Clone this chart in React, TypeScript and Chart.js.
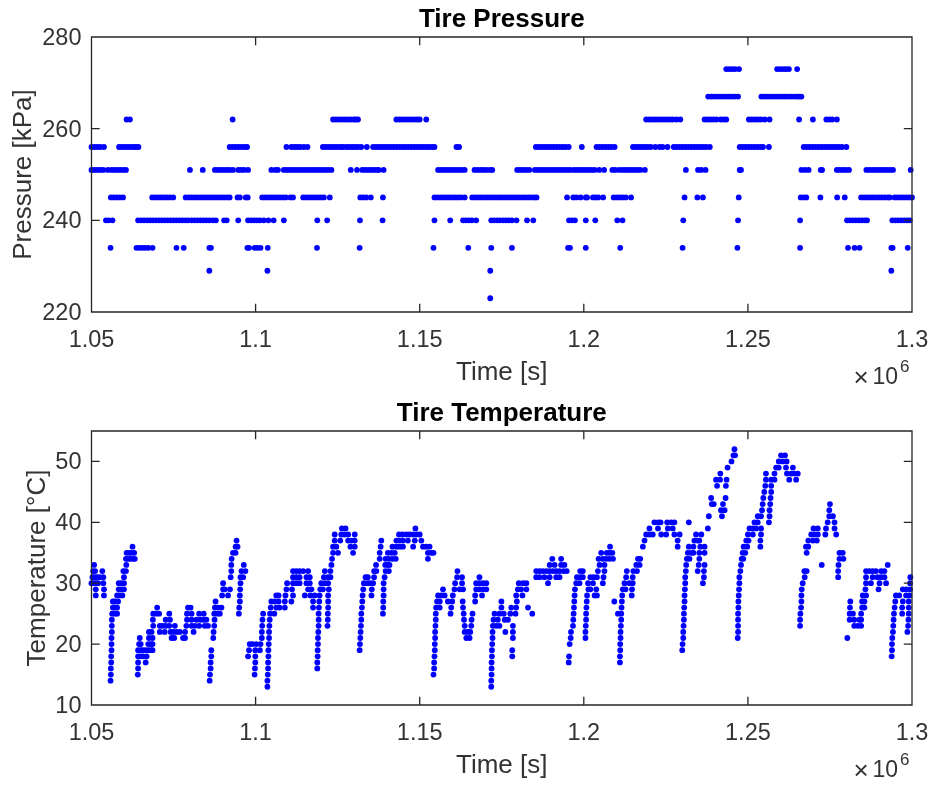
import React, { useEffect, useRef } from "react";
import { Chart, registerables } from "chart.js";

Chart.register(...registerables);

// x values are in thousands of seconds
const p223 = [1171.5];
const p229 = [1085.9, 1103.6, 1171.5, 1293.7];
const p234 = [1055.8, 1063.7, 1064.6, 1065.5, 1066.4, 1067.3, 1068.6, 1075.9, 1078.1, 1085.9, 1086.4, 1097.5, 1098.0, 1099.7, 1100.6, 1101.5, 1103.7, 1118.7, 1131.7, 1154.2, 1164.8, 1171.8, 1178.1, 1195.2, 1195.8, 1200.6, 1211.1, 1230.1, 1246.8, 1265.9, 1280.5, 1282.5, 1284, 1293.7, 1294.1, 1298.7];
const p240 = [1054.4, 1055.2, 1056.4, 1064.2, 1065.1, 1066, 1066.9, 1067.8, 1068.7, 1069.6, 1070.5, 1071.4, 1072.3, 1073.2, 1074.1, 1075, 1075.9, 1076.8, 1077.7, 1078.6, 1079.4, 1080.5, 1081.4, 1082.3, 1083.2, 1084.1, 1085, 1085.9, 1087, 1087.9, 1090.4, 1091.2, 1094.7, 1097.7, 1098.6, 1099.5, 1100.4, 1101.3, 1102.5, 1103.9, 1105.5, 1108.6, 1118.8, 1121.8, 1131.8, 1138.7, 1154.5, 1159.3, 1163.2, 1164.1, 1165, 1165.9, 1167.2, 1171.8, 1172.7, 1173.6, 1174.4, 1175.4, 1176.3, 1177.2, 1178.1, 1179.5, 1182.7, 1184.6, 1195.5, 1196.4, 1197.3, 1200.6, 1203.5, 1210.2, 1211.8, 1230.3, 1247, 1265.9, 1280.2, 1281.1, 1282, 1282.9, 1283.8, 1284.7, 1285.6, 1286.3, 1294, 1294.9, 1295.8, 1296.7, 1297.6, 1298.5, 1299.3];
const p245 = [1055.9, 1056.8, 1057.7, 1058.6, 1059.6, 1068.5, 1069.4, 1070.3, 1071.2, 1072.1, 1073, 1073.9, 1074.9, 1078.7, 1079.6, 1080.5, 1081.4, 1082.3, 1083.2, 1084.1, 1085, 1085.9, 1086.8, 1087.7, 1088.6, 1089.5, 1090.4, 1091.3, 1092.1, 1094.5, 1095.2, 1097, 1097.6, 1102, 1102.9, 1103.8, 1104.7, 1105.6, 1106.5, 1107.4, 1108.3, 1109.2, 1110.6, 1111.4, 1114.5, 1115.4, 1116.3, 1117.2, 1118.1, 1119, 1119.9, 1120.8, 1122.6, 1131.9, 1132.8, 1133.7, 1135.1, 1138.8, 1154.5, 1155.4, 1156.3, 1157.2, 1158.1, 1159, 1159.9, 1160.8, 1161.7, 1162.6, 1163.7, 1166, 1166.9, 1167.8, 1168.7, 1169.6, 1170.5, 1171.4, 1172.3, 1173.2, 1174.1, 1175, 1175.9, 1176.8, 1177.7, 1178.6, 1179.5, 1180.4, 1181.3, 1182.2, 1183.1, 1184, 1184.9, 1185.6, 1194.9, 1196.8, 1197.7, 1199, 1200.6, 1201, 1202.8, 1203.6, 1204.4, 1205.9, 1209.1, 1210, 1210.9, 1211.8, 1212.8, 1214.4, 1230.7, 1234.6, 1236.3, 1247.2, 1266.1, 1267, 1267.8, 1272.1, 1277.2, 1279.5, 1284.5, 1285.4, 1286.3, 1287.2, 1288.1, 1289, 1289.9, 1290.8, 1291.7, 1292.6, 1293.2, 1294.7, 1295.6, 1296.5, 1297.4, 1298.3, 1299.2, 1300];
const p251 = [1050, 1050.9, 1051.8, 1052.7, 1053.6, 1055, 1056.1, 1057, 1057.9, 1058.8, 1059.7, 1060.5, 1080, 1083.9, 1087.6, 1088.5, 1089.4, 1090.3, 1091.2, 1092.1, 1093.1, 1094.7, 1095.6, 1096.5, 1097.7, 1104.8, 1106, 1106.8, 1108.6, 1109.5, 1110.4, 1111.3, 1112.2, 1113.1, 1114, 1114.9, 1115.8, 1116.7, 1117.6, 1118.5, 1119.4, 1120.3, 1121.2, 1122.1, 1123.1, 1129, 1130.9, 1132.5, 1133.4, 1134.3, 1135.2, 1136.1, 1137, 1137.5, 1139, 1155.6, 1156.5, 1157.4, 1158.3, 1159.2, 1160.1, 1161, 1161.9, 1162.8, 1163.7, 1166.7, 1167.6, 1168.5, 1169.4, 1170.3, 1171.4, 1172.1, 1179.7, 1180.6, 1181.5, 1182.4, 1183.4, 1185.1, 1186, 1186.9, 1187.8, 1188.7, 1189.6, 1190.5, 1191.4, 1192.3, 1193.2, 1194.1, 1195, 1195.9, 1197, 1197.9, 1198.8, 1199.7, 1200.6, 1201.5, 1202.4, 1203.3, 1204.7, 1206.2, 1208.7, 1209.6, 1210.8, 1211.8, 1212.7, 1213.6, 1214.5, 1215.4, 1216.3, 1217.2, 1218.6, 1231.1, 1234.8, 1235.8, 1237.1, 1247.5, 1247.9, 1266.3, 1267.4, 1268.5, 1272.2, 1272.6, 1277.1, 1278, 1278.9, 1279.8, 1280.8, 1286.1, 1287, 1287.9, 1288.8, 1289.7, 1290.6, 1291.5, 1292.4, 1293.3, 1294.2, 1299.6];
const p256 = [1050, 1050.9, 1051.8, 1052.7, 1053.8, 1058.4, 1059.3, 1060.2, 1061.1, 1062, 1062.9, 1063.6, 1064.3, 1092.1, 1093, 1093.9, 1094.8, 1095.7, 1096.6, 1097.4, 1109.4, 1110.9, 1111.8, 1112.7, 1113.6, 1114.7, 1115.8, 1120.5, 1121.4, 1122.3, 1123.2, 1124.1, 1125, 1125.9, 1126.6, 1127.6, 1128.5, 1129.4, 1130.3, 1131.2, 1132.2, 1133.9, 1135.8, 1136.7, 1137.6, 1138.5, 1139.4, 1140.3, 1141.2, 1142.1, 1143, 1143.9, 1144.8, 1145.7, 1146.6, 1147.5, 1148.4, 1149.3, 1150.2, 1151.1, 1152, 1152.9, 1153.8, 1154.5, 1161.2, 1162, 1185.4, 1186.3, 1187.2, 1188.1, 1189, 1189.9, 1190.8, 1191.7, 1192.6, 1193.5, 1194.4, 1195.4, 1199.4, 1203.9, 1204.8, 1205.7, 1206.6, 1207.5, 1208.4, 1209.4, 1215, 1215.9, 1216.8, 1217.7, 1218.6, 1219.5, 1220.4, 1221.8, 1223.1, 1224, 1225.5, 1227.4, 1228.3, 1229.2, 1230.1, 1231, 1231.9, 1232.8, 1233.7, 1234.6, 1235.5, 1236.4, 1237.3, 1238.4, 1247.5, 1248.4, 1249.3, 1250.2, 1251.1, 1252, 1252.9, 1253.8, 1254.6, 1256.4, 1267, 1267.9, 1268.8, 1269.7, 1270.6, 1271.5, 1272.4, 1273.3, 1274.2, 1275.1, 1276, 1276.9, 1277.8, 1278.7, 1280];
const p262 = [1060.7, 1061.7, 1093, 1123.6, 1124.5, 1125.4, 1126.3, 1127.2, 1128.1, 1129, 1129.9, 1130.5, 1131.2, 1142.9, 1143.8, 1144.7, 1145.6, 1146.5, 1147.4, 1148.3, 1149.2, 1150, 1152, 1219, 1219.9, 1220.8, 1221.7, 1222.6, 1223.5, 1224.4, 1225.3, 1226.2, 1227.1, 1228.2, 1229.4, 1236.8, 1237.7, 1238.6, 1239.5, 1240.4, 1241.7, 1242.6, 1243.4, 1250.3, 1251.2, 1252.1, 1253, 1253.9, 1255.1, 1256.6, 1265.6, 1269.8, 1273.9, 1274.8, 1275.7, 1277.1];
const p267 = [1237.9, 1238.8, 1239.7, 1240.6, 1241.5, 1242.4, 1243.3, 1244.2, 1245.1, 1246, 1247, 1254.1, 1255, 1255.9, 1256.8, 1257.7, 1258.6, 1259.5, 1260.4, 1261.3, 1262.2, 1263.1, 1264, 1264.9, 1265.6, 1266.3];
const p273 = [1243.4, 1244.3, 1245.2, 1246.1, 1247.3, 1258.9, 1259.8, 1260.7, 1261.6, 1262.5, 1265];

const t13 = [1103.6, 1171.8];
const t14 = [1055.8, 1086, 1103.6, 1171.8];
const t15 = [1055.9, 1064.1, 1086.1, 1099.7, 1103.7, 1154.2, 1171.9];
const t16 = [1055.9, 1064.2, 1086.3, 1099.8, 1103.8, 1118.8, 1154.4, 1171.9];
const t17 = [1056, 1064.2, 1066.5, 1086.3, 1099.9, 1103.8, 1118.8, 1154.4, 1171.9, 1195.4, 1211];
const t18 = [1056, 1064.2, 1065, 1065.7, 1066.8, 1086.5, 1097.7, 1099.9, 1103.9, 1118.9, 1154.5, 1172, 1178.2, 1195.5, 1211, 1293.8];
const t19 = [1056.1, 1064.2, 1065, 1065.7, 1066.5, 1067.4, 1068.1, 1068.6, 1086.5, 1098, 1099.9, 1101.3, 1103.9, 1118.9, 1131.7, 1154.6, 1172, 1178.2, 1211.1, 1230, 1293.9];
const t20 = [1056.1, 1064.5, 1065, 1067.3, 1068.1, 1068.6, 1098.2, 1099, 1100.2, 1101.5, 1104, 1119, 1131.8, 1154.6, 1172.1, 1195.7, 1211.1, 1230.1, 1293.9];
const t21 = [1056.1, 1064.7, 1067.5, 1068.6, 1074.4, 1075.2, 1077.9, 1078.5, 1087.1, 1101.9, 1104.1, 1119, 1131.9, 1154.7, 1164.2, 1165.2, 1172.2, 1178.4, 1196, 1200.5, 1211.2, 1230.3, 1246.9, 1280.3, 1294];
const t22 = [1056.2, 1067.5, 1068.3, 1070.8, 1072.3, 1074.1, 1074.9, 1075.9, 1076.9, 1078.5, 1081.1, 1087.2, 1101.9, 1104.1, 1119.1, 1132, 1154.7, 1163.7, 1164.7, 1165.4, 1172.2, 1176.1, 1178.4, 1196.1, 1200.5, 1211.2, 1230.3, 1247, 1294.2, 1298.6];
const t23 = [1056.2, 1068.8, 1070.8, 1071.6, 1072.6, 1073.7, 1075.4, 1078.9, 1080.5, 1081.5, 1082.8, 1084.5, 1085.5, 1087.4, 1102, 1104.2, 1119.2, 1121.9, 1132.1, 1154.8, 1163.7, 1165.7, 1172.3, 1173.3, 1174.3, 1178.4, 1196.7, 1200.6, 1211.3, 1230.4, 1247, 1265.9, 1282.4, 1283.5, 1284.5, 1294.3, 1298.8];
const t24 = [1056.2, 1068.7, 1072.6, 1073.9, 1079.1, 1080.5, 1082, 1083.2, 1084.2, 1085, 1087.5, 1102.1, 1104.3, 1119.2, 1122, 1132.2, 1154.9, 1163.5, 1165.8, 1172.5, 1173.8, 1175.9, 1176.9, 1196.8, 1200.7, 1211.4, 1230.5, 1247, 1265.9, 1281, 1282.4, 1284, 1284.5, 1294.4, 1298.9];
const t25 = [1056.3, 1057.1, 1057.8, 1068.8, 1069.6, 1070.6, 1073.7, 1079.1, 1080.5, 1082.8, 1084.2, 1087.4, 1088.3, 1089.1, 1094.9, 1102.3, 1104.4, 1105.7, 1119.2, 1122, 1132.2, 1138.8, 1154.9, 1159.4, 1163.4, 1166.1, 1172.8, 1174.3, 1175.6, 1177.6, 1179.2, 1184.3, 1196.9, 1200.7, 1210.4, 1211.4, 1230.5, 1247, 1266, 1281, 1282, 1284.5, 1294.5, 1297, 1299];
const t26 = [1056.5, 1057.1, 1057.8, 1070, 1079.4, 1080.2, 1087.6, 1088.6, 1089.6, 1095, 1104.6, 1106.3, 1107.3, 1108.9, 1117.5, 1119.3, 1122.1, 1132.4, 1138.9, 1155, 1156.1, 1159.6, 1163.2, 1174.9, 1177.9, 1179.4, 1183, 1197, 1200.8, 1211.5, 1230.6, 1247.1, 1266.2, 1281.1, 1284.8, 1285.5, 1294.7, 1297, 1299];
const t27 = [1056.5, 1057.2, 1058.1, 1087.8, 1095.2, 1104.8, 1105.8, 1107, 1108.9, 1110.9, 1117.5, 1119.4, 1122.1, 1132.5, 1138.9, 1155.3, 1156.1, 1158.6, 1159.9, 1163.1, 1166.9, 1174.9, 1179.6, 1197.1, 1200.9, 1209.3, 1211.6, 1230.7, 1247.1, 1266.3, 1281.2, 1284.8, 1285.5, 1294.9, 1297.2, 1299];
const t28 = [1051.3, 1053.8, 1057.8, 1058.6, 1059.4, 1089.8, 1091.6, 1095.2, 1106.3, 1107, 1109.1, 1111.4, 1115, 1116.7, 1118, 1119.5, 1122.1, 1132.6, 1135.3, 1139, 1155.6, 1156.6, 1157.6, 1160.1, 1166.9, 1169, 1179.4, 1181.3, 1197.2, 1201, 1203.3, 1204, 1211.7, 1214.6, 1230.7, 1247.2, 1266.3, 1285, 1286, 1295.1, 1296.1, 1298.2, 1299.2];
const t29 = [1051.3, 1053.8, 1058.3, 1059.1, 1059.9, 1090.1, 1090.6, 1092.2, 1095.3, 1109.4, 1111.1, 1116, 1117, 1119.7, 1120.5, 1122.3, 1132.8, 1135.4, 1139, 1157.1, 1160.6, 1162.2, 1163.2, 1167.2, 1168.2, 1169.3, 1170.3, 1179.9, 1180.9, 1182.5, 1197.3, 1201.4, 1202, 1203.8, 1211.9, 1212.7, 1214.7, 1230.8, 1247.3, 1266.4, 1285.8, 1289.8, 1297.2, 1298.2, 1299.4];
const t30 = [1050, 1050.5, 1051.3, 1052, 1053.6, 1058.3, 1059.1, 1059.9, 1090.1, 1095.4, 1109.6, 1111.4, 1112.4, 1113.4, 1115.5, 1116.5, 1120, 1121.1, 1122.1, 1133, 1134, 1134.8, 1135.8, 1139, 1160.8, 1162.9, 1167.2, 1168.2, 1169.3, 1170.3, 1180.2, 1181.5, 1182.5, 1189.1, 1197.7, 1198.7, 1201.3, 1202.8, 1205.8, 1212.4, 1213.9, 1214.9, 1230.9, 1236.3, 1247.4, 1266.7, 1286, 1287.5, 1290.1, 1292.1, 1299.4];
const t31 = [1050.3, 1051, 1051.7, 1052.5, 1053.6, 1059.9, 1092.4, 1095.4, 1096.2, 1111.4, 1112.4, 1113.4, 1115.5, 1116.5, 1120.8, 1122.1, 1122.8, 1133.5, 1134.2, 1136.1, 1139.3, 1161.4, 1162.9, 1168.2, 1185.5, 1186.5, 1188, 1189.6, 1191.6, 1192.6, 1197.9, 1198.9, 1199.7, 1202, 1203, 1204, 1206, 1212.9, 1214.9, 1230.9, 1236.6, 1247.4, 1267.3, 1277.5, 1286, 1288, 1289.5, 1290.6, 1291.6, 1299.5];
const t32 = [1050.5, 1051.1, 1053.3, 1059.7, 1060.5, 1092.6, 1095.7, 1096.9, 1111.4, 1112.4, 1113.4, 1114.5, 1116, 1121.1, 1122.8, 1136.1, 1136.8, 1139.6, 1140.6, 1161.5, 1185.5, 1186.5, 1187.5, 1188.6, 1189.6, 1190.6, 1191.6, 1192.6, 1193.8, 1194.8, 1198.9, 1199.7, 1204.3, 1206.3, 1213.1, 1215.1, 1216.2, 1231.1, 1234.7, 1236.6, 1247.7, 1267.2, 1267.9, 1277.5, 1286, 1287, 1288, 1289, 1290.6, 1291.6];
const t33 = [1050.8, 1060.6, 1092.6, 1096.4, 1123.1, 1136.7, 1139.5, 1140.3, 1140.8, 1189.6, 1191.1, 1193.1, 1194.1, 1204.8, 1206.3, 1216, 1217, 1231.2, 1235, 1236.8, 1247.9, 1272.5, 1277.6, 1292.6];
const t34 = [1060.5, 1061.2, 1061.9, 1062.7, 1063.2, 1092.7, 1123.3, 1137.8, 1139.6, 1140.6, 1141.7, 1142.7, 1152.5, 1190.4, 1193.1, 1204.5, 1205.8, 1206.8, 1207.8, 1208.9, 1216.5, 1217.2, 1231.4, 1232.2, 1235.2, 1248.1, 1248.6, 1277.9, 1279.1];
const t35 = [1060.7, 1061.5, 1062.2, 1063, 1093.1, 1093.9, 1123.6, 1125.1, 1129.7, 1137.8, 1140.3, 1141.4, 1142.4, 1152.5, 1153.5, 1154.2, 1205.3, 1207, 1207.8, 1208.7, 1231.7, 1232.7, 1233.4, 1235.2, 1236.8, 1248.4, 1249.2, 1267.9, 1277.9, 1278.9];
const t36 = [1062.5, 1093.9, 1094.5, 1123.6, 1124.6, 1128.9, 1130.2, 1138.1, 1141.7, 1142.9, 1143.9, 1144.9, 1148, 1151, 1152, 1153, 1208, 1218, 1228.6, 1232, 1233.4, 1235.5, 1236.8, 1248.7, 1249.8, 1253.8, 1267.7, 1268.4];
const t37 = [1094.2, 1124.1, 1125.8, 1128.2, 1129.2, 1130.2, 1138.3, 1142.9, 1143.9, 1144.9, 1146.4, 1148.5, 1150.5, 1218.5, 1228.6, 1233.7, 1234.7, 1235.2, 1249.5, 1250.2, 1253.8, 1268.4, 1269.8, 1271];
const t38 = [1124.1, 1126.1, 1127.1, 1128.2, 1130.2, 1143.7, 1144.7, 1145.9, 1146.9, 1148, 1149, 1150, 1219, 1220, 1221, 1223.6, 1225.1, 1227.6, 1229.2, 1234.2, 1235.8, 1250, 1251.5, 1254, 1269.3, 1270.3, 1271.3, 1273.6, 1276.9];
const t39 = [1126.3, 1127.4, 1148.7, 1220, 1222.6, 1225.6, 1227.1, 1237.8, 1250.5, 1251.5, 1252.5, 1254, 1270, 1271.3, 1273.8, 1276.4];
const t40 = [1221.5, 1222.6, 1223.4, 1225.4, 1226.6, 1227.6, 1232, 1252, 1253, 1256.4, 1274.3, 1276.4];
const t41 = [1238.1, 1242.1, 1253, 1254, 1256.6, 1274.8, 1275.9];
const t42 = [1241.8, 1242.9, 1254.3, 1256.6, 1274.8];
const t43 = [1239, 1239.6, 1242.4, 1254.5, 1256.8, 1275];
const t44 = [1238.8, 1243.2, 1254.7, 1256.9];
const t45 = [1255, 1257.1];
const t46 = [1240.6, 1243.3, 1255.3, 1257.1];
const t47 = [1240.3, 1241.5, 1243.5, 1255.5, 1257.1, 1258.1, 1262.6, 1264.7];
const t48 = [1241.6, 1255.5, 1258.1, 1261.9, 1263.2, 1264.2, 1265.2];
const t49 = [1243.8, 1258.6, 1259.4, 1261.6, 1263.7];
const t50 = [1245, 1259.4, 1260.6, 1261.8];
const t51 = [1245.6, 1246.1, 1260.1, 1261.3];
const t52 = [1245.9];

const xTicks = [1050000, 1100000, 1150000, 1200000, 1250000, 1300000];
const pressureTicks = [220, 240, 260, 280];
const temperatureTicks = [10, 20, 30, 40, 50];

const pressureLevels: [number, number[]][] = [
  [223, p223], [229, p229], [234, p234], [240, p240], [245, p245],
  [251, p251], [256, p256], [262, p262], [267, p267], [273, p273],
];
const temperatureLevels: [number, number[]][] = [
  [13, t13], [14, t14], [15, t15], [16, t16], [17, t17], [18, t18], [19, t19], [20, t20],
  [21, t21], [22, t22], [23, t23], [24, t24], [25, t25], [26, t26], [27, t27], [28, t28],
  [29, t29], [30, t30], [31, t31], [32, t32], [33, t33], [34, t34], [35, t35], [36, t36],
  [37, t37], [38, t38], [39, t39], [40, t40], [41, t41], [42, t42], [43, t43], [44, t44],
  [45, t45], [46, t46], [47, t47], [48, t48], [49, t49], [50, t50], [51, t51], [52, t52],
];

const FONT = "'Liberation Sans', Arial, sans-serif";
const TEXT = "#333333";
const AXIS = "#262626";
const TICK_SIZE = 23.5;

function toPoints(levels: [number, number[]][]) {
  const pts: { x: number; y: number }[] = [];
  for (const [y, xs] of levels) for (const x of xs) pts.push({ x: x * 1000, y });
  return pts;
}

const frame = {
  id: "frame",
  afterDatasetsDraw(chart: any) {
    const { ctx, chartArea: a, scales } = chart;
    const L = 8.2;
    ctx.save();
    ctx.strokeStyle = AXIS;
    ctx.lineWidth = 1.3;
    ctx.beginPath();
    ctx.rect(a.left, a.top, a.right - a.left, a.bottom - a.top);
    scales.x.ticks.forEach((t: any) => {
      const p = scales.x.getPixelForValue(t.value);
      ctx.moveTo(p, a.bottom);
      ctx.lineTo(p, a.bottom - L);
      ctx.moveTo(p, a.top);
      ctx.lineTo(p, a.top + L);
    });
    scales.y.ticks.forEach((t: any) => {
      const p = scales.y.getPixelForValue(t.value);
      ctx.moveTo(a.left, p);
      ctx.lineTo(a.left + L, p);
      ctx.moveTo(a.right, p);
      ctx.lineTo(a.right - L, p);
    });
    ctx.stroke();
    ctx.fillStyle = TEXT;
    // y tick labels, slightly below their ticks as in the reference
    ctx.font = `${TICK_SIZE}px ${FONT}`;
    ctx.textAlign = "right";
    ctx.textBaseline = "middle";
    scales.y.ticks.forEach((t: any) => {
      ctx.fillText(String(t.value), a.left - 10, scales.y.getPixelForValue(t.value) + 1.5);
    });
    // axis exponent label
    ctx.textBaseline = "alphabetic";
    ctx.textAlign = "left";
    ctx.font = `26px ${FONT}`;
    ctx.fillText("×", a.right - 58.5, a.bottom + 73.5);
    ctx.font = `23px ${FONT}`;
    ctx.fillText("10", a.right - 39.5, a.bottom + 71.5);
    ctx.font = `17px ${FONT}`;
    ctx.fillText("6", a.right - 12, a.bottom + 60);
    ctx.restore();
  },
};

function config(levels: [number, number[]][], title: string, yLabel: string, yMin: number, yMax: number, yTicks: number[], yTitlePad: number) {
  return {
    type: "scatter",
    data: {
      datasets: [{
        data: toPoints(levels),
        backgroundColor: "#0000ff",
        borderColor: "#0000ff",
        pointRadius: 2.9,
        pointBorderWidth: 0,
        clip: false,
      }],
    },
    plugins: [frame],
    options: {
      animation: false,
      responsive: false,
      layout: { padding: { left: 0, right: 19, top: 0, bottom: 0 } },
      plugins: {
        legend: { display: false },
        tooltip: { enabled: false },
        title: {
          display: true,
          fullSize: false,
          text: title,
          color: "#000000",
          font: { family: FONT, size: 26, weight: "bold", lineHeight: 1 },
          padding: { top: 6.5, bottom: 4.5 },
        },
      },
      scales: {
        x: {
          type: "linear",
          min: 1050000,
          max: 1300000,
          grid: { drawOnChartArea: false, drawTicks: false },
          border: { display: false },
          afterFit(s: any) { s.height = 80; s.paddingLeft = 0; s.paddingRight = 0; },
          afterBuildTicks(s: any) { s.ticks = xTicks.map((value) => ({ value })); },
          ticks: {
            maxRotation: 0,
            autoSkip: false,
            padding: 14,
            color: TEXT,
            font: { family: FONT, size: TICK_SIZE },
            callback: (v: number) => String(v / 1e6),
          },
          title: {
            display: true,
            text: "Time [s]",
            color: TEXT,
            font: { family: FONT, size: 26 },
            padding: { top: 6, bottom: 4 },
          },
        },
        y: {
          min: yMin,
          max: yMax,
          grid: { drawOnChartArea: false, drawTicks: false },
          border: { display: false },
          afterFit(s: any) { s.width = 91.5; s.paddingTop = 0; s.paddingBottom = 0; },
          afterBuildTicks(s: any) { s.ticks = yTicks.map((value) => ({ value })); },
          ticks: { display: false },
          title: {
            display: true,
            text: yLabel,
            color: TEXT,
            font: { family: FONT, size: 26 },
            padding: { top: yTitlePad, bottom: 0 },
          },
        },
      },
    },
  };
}

function Panel({ cfg, top, height }: { cfg: any; top: number; height: number }) {
  const ref = useRef<HTMLCanvasElement>(null);
  useEffect(() => {
    const chart = new Chart(ref.current as HTMLCanvasElement, cfg);
    return () => chart.destroy();
  }, [cfg]);
  return (
    <canvas
      ref={ref}
      width={931}
      height={height}
      style={{ position: "absolute", left: 0, top, width: 931, height }}
    />
  );
}

const pressureConfig = config(pressureLevels, "Tire Pressure", "Pressure [kPa]", 220, 280, pressureTicks, 8.4);
const temperatureConfig = config(temperatureLevels, "Tire Temperature", "Temperature [°C]", 10, 55, temperatureTicks, 22);

export default function App() {
  return (
    <div style={{ position: "absolute", left: 0, top: 0, width: 931, height: 785, overflow: "hidden" }}>
      <Panel cfg={pressureConfig} top={0} height={392} />
      <Panel cfg={temperatureConfig} top={394} height={391} />
    </div>
  );
}
